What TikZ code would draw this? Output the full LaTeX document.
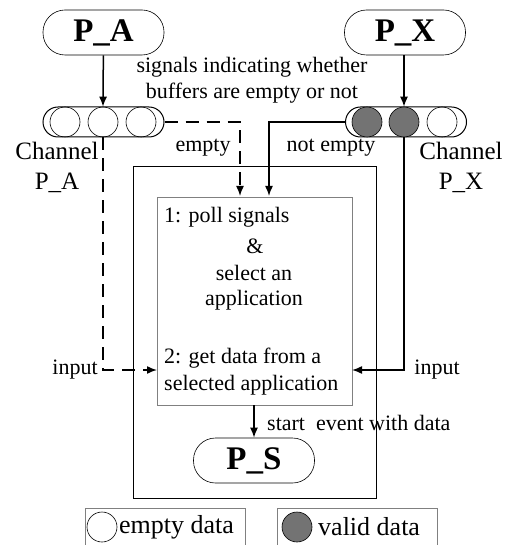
\documentclass[tikz,border=0pt]{standalone}
\usepackage{fontspec}
\setmainfont{Liberation Serif}
\usetikzlibrary{arrows.meta}

\tikzset{
  proc/.style={draw, line width=0.6pt, rounded corners=22pt, minimum width=121pt, minimum height=45pt, inner sep=0pt, font=\fontsize{33}{36}\selectfont\bfseries},
  chan/.style={draw, line width=1pt, rounded corners=15pt, minimum width=121pt, minimum height=30pt},
  slot/.style={draw, circle, line width=0.6pt, minimum size=30pt, inner sep=0pt},
  full/.style={slot, fill=black!55},
  txt/.style={inner sep=1pt, font=\fontsize{22}{26}\selectfont},
  big/.style={inner sep=1pt, align=center, font=\fontsize{25}{30}\selectfont},
  box/.style={draw, minimum width=#1, inner sep=0pt},
  conn/.style={line width=1.5pt},
  dsh/.style={conn, dash pattern=on 13pt off 8pt},
  tip/.style={-{Latex[length=10pt,width=8pt]}},
}

\begin{document}
\begin{tikzpicture}[x=1pt,y=-1pt]
  \useasboundingbox (0,0) rectangle (504,545);

  %% processes
  \node[proc] (pa) at (103.5,32.5) {P\_A};
  \node[proc] (px) at (405,32.5) {P\_X};

  \node[txt, align=center] (sig) at (252,80) {signals indicating whether\\buffers are empty or not};

  %% channels
  \node[chan] (chA) at (103.5,122) {};
  \node[slot] (cA1) at (65,122) {};
  \node[slot] (cA2) at (103,122) {};
  \node[slot] (cA3) at (141,122) {};

  \node[chan] (chX) at (406,122) {};
  \node[full] (cX1) at (367,122) {};
  \node[full] (cX2) at (404,122) {};
  \node[slot] (cX3) at (442,122) {};

  \node[big] (labA) at (57,167) {Channel\\P\_A};
  \node[big] (labX) at (461,167) {Channel\\P\_X};

  %% scheduler
  \node[box=243pt, line width=1pt, minimum height=331pt] (outer) at (254.5,332.5) {};
  \node[box=195pt, draw=gray, line width=0.6pt, minimum height=208pt] (inner) at (254.5,301) {};

  \node[txt, anchor=west] (s1) at (163,217) {1: poll signals};
  \node[txt] (amp) at (255,246) {\&};
  \node[txt] (s2) at (254,273) {select an};
  \node[txt] (s3) at (254,300) {application};
  \node[txt, anchor=west] (s4) at (163,358) {2: get data from a};
  \node[txt, anchor=west] (s5) at (163,385) {selected application};

  \node[proc] (ps) at (254,460.5) {P\_S};

  %% connectors
  \coordinate (eA) at (240,196);
  \coordinate (eX) at (269,196);
  \coordinate (inA) at (157,370);
  \coordinate (inX) at (352,370);

  \draw[conn, tip] (pa) -- (cA2.north);
  \draw[conn, tip] (px.south -| cX2) -- (cX2.north);
  \draw[dsh, tip] (chA.east) -| (eA);
  \draw[conn, tip] (chX.west) -| (eX);
  \draw[dsh, tip] (cA2.south) |- (inA);
  \draw[conn, tip] (cX2.south) |- (inX);
  \draw[conn, tip] (inner.south -| ps) -- (ps.north);

  \node[txt] (lEmpty) at (203,148) {empty};
  \node[txt] (lFull) at (331,148) {not empty};
  \node[txt] (inL) at (75,370) {input};
  \node[txt] (inR) at (437,370) {input};
  \node[txt, anchor=west] (start) at (266,423) {start\ \ event with data};

  %% legend
  \node[box=160pt, draw=gray, line width=0.6pt, minimum height=42pt] (legE) at (165,529) {};
  \node[slot] (legEc) at (102,527) {};
  \node[txt, anchor=west, font=\fontsize{26}{28}\selectfont] (legEt) at (118,527) {empty data};

  \node[box=160pt, draw=gray, line width=0.6pt, minimum height=42pt] (legF) at (357,529) {};
  \node[full] (legFc) at (297,527) {};
  \node[txt, anchor=west, font=\fontsize{26}{28}\selectfont] (legFt) at (317,527) {valid data};
\end{tikzpicture}
\end{document}
